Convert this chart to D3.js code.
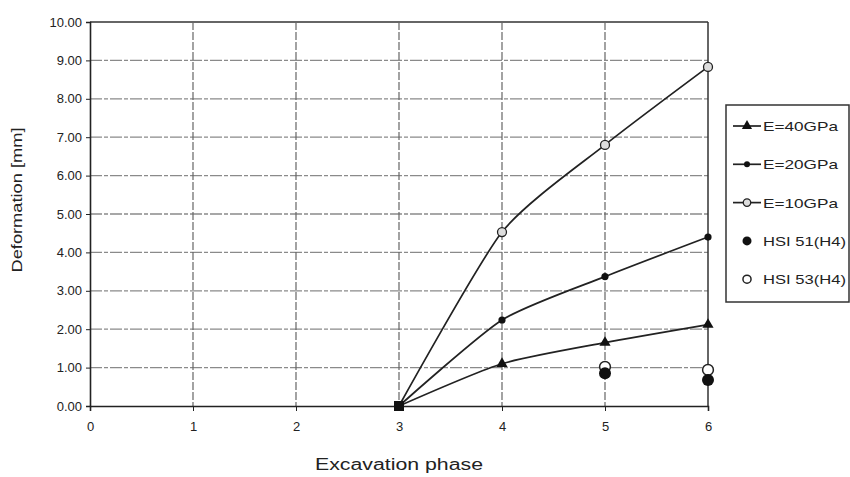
<!DOCTYPE html>
<html>
<head>
<meta charset="utf-8">
<script src="https://cdn.jsdelivr.net/npm/d3@7"></script>
<style>
  body { margin: 0; background: #fff; }
  text { font-family: "Liberation Sans", Arial, sans-serif; fill: #222; }
</style>
</head>
<body>
<script>
// values
var phases = [3, 4, 5, 6];
var e40 = [0, 1.1, 1.65, 2.12];
var e20 = [0, 2.24, 3.37, 4.4];
var e10 = [0, 4.53, 6.8, 8.83];
var hsiPhases = [5, 6];
var hsi51 = [0.85, 0.68];
var hsi53 = [1.02, 0.94];
var xTicks = [0, 1, 2, 3, 4, 5, 6];
var yTicks = [0, 1, 2, 3, 4, 5, 6, 7, 8, 9, 10];

var margin = {top: 22, left: 90},
    width = 618,
    height = 384;

var x = d3.scaleLinear().domain([0, 6]).range([0, width]);
var y = d3.scaleLinear().domain([0, 10]).range([height, 0]);

var svg = d3.select("body").append("svg")
    .attr("width", 850)
    .attr("height", 477);

var g = svg.append("g")
    .attr("transform", "translate(" + margin.left + "," + margin.top + ")");

// grid
g.selectAll(".hgrid").data(yTicks.slice(1))
  .enter().append("line")
    .attr("x1", 0).attr("x2", width)
    .attr("y1", function(d){ return y(d); })
    .attr("y2", function(d){ return y(d); })
    .attr("stroke", function(d){ return d == 10 ? "#333" : "#8a8a8a"; })
    .attr("stroke-width", function(d){ return d == 10 ? 1.5 : 1.3; })
    .attr("stroke-dasharray", function(d){ return d == 10 ? null : "12,2,4,2"; });

g.selectAll(".vgrid").data(xTicks.slice(1))
  .enter().append("line")
    .attr("y1", 0).attr("y2", height)
    .attr("x1", function(d){ return x(d); })
    .attr("x2", function(d){ return x(d); })
    .attr("stroke", function(d){ return d == 6 ? "#333" : "#666"; })
    .attr("stroke-width", function(d){ return d == 6 ? 1.5 : 1.2; })
    .attr("stroke-dasharray", function(d){ return d == 6 ? null : "8,2"; });

// axes
var yAxis = d3.axisLeft(y).tickValues(yTicks).tickSize(4)
    .tickFormat(d3.format(".2f"));
var xAxis = d3.axisBottom(x).tickValues(xTicks).tickSize(5)
    .tickFormat(d3.format("d"));

var ya = g.append("g").call(yAxis);
var xa = g.append("g").attr("transform", "translate(0," + height + ")").call(xAxis);
[ya, xa].forEach(function(a){
  a.select(".domain").attr("stroke", "#222").attr("stroke-width", 1.6);
  a.selectAll(".tick line").attr("stroke", "#222");
  a.selectAll("text").style("font-size", "13px").attr("fill", "#222")
    .style("font-family", "'Liberation Sans', Arial, sans-serif");
});
ya.selectAll("text").attr("x", -8);
xa.selectAll("text").attr("dy", "1.3em");

// axis titles (the scan is a bit stretched, so the text is widened)
svg.append("text")
    .attr("transform", "translate(22," + (margin.top + 178) + ") rotate(-90)")
    .attr("text-anchor", "middle")
    .attr("textLength", 145).attr("lengthAdjust", "spacingAndGlyphs")
    .style("font-size", "15px")
    .text("Deformation [mm]");
svg.append("text")
    .attr("x", 315).attr("y", 470)
    .attr("textLength", 168).attr("lengthAdjust", "spacingAndGlyphs")
    .style("font-size", "16px")
    .text("Excavation phase");

// lines
var line = d3.line()
    .x(function(d){ return x(d[0]); })
    .y(function(d){ return y(d[1]); })
    .curve(d3.curveCardinal.tension(0.35));

var series = [
  {name: "E=40GPa", vals: e40, marker: "tri"},
  {name: "E=20GPa", vals: e20, marker: "dot"},
  {name: "E=10GPa", vals: e10, marker: "open"}
];

series.forEach(function(s){
  var pts = phases.map(function(p, i){ return [p, s.vals[i]]; });
  g.append("path").datum(pts)
    .attr("d", line)
    .attr("fill", "none")
    .attr("stroke", "#222")
    .attr("stroke-width", 1.7);
});

function marker(sel, type, size) {
  if (type == "tri") {
    sel.append("path").attr("d", d3.symbol(d3.symbolTriangle, size * 9)())
      .attr("fill", "#111");
  } else if (type == "dot") {
    sel.append("circle").attr("r", size * 0.6).attr("fill", "#111");
  } else if (type == "open") {
    sel.append("circle").attr("r", size * 0.75).attr("fill", "#ddd")
      .attr("stroke", "#222").attr("stroke-width", 1.3);
  } else if (type == "big") {
    sel.append("circle").attr("r", size).attr("fill", "#111");
  } else if (type == "ring") {
    sel.append("circle").attr("r", size * 0.9).attr("fill", "#fff")
      .attr("stroke", "#222").attr("stroke-width", 1.5);
  }
}

series.forEach(function(s){
  phases.forEach(function(p, i){
    if (i == 0) return;
    var m = g.append("g").attr("transform", "translate(" + x(p) + "," + y(s.vals[i]) + ")");
    marker(m, s.marker, 6);
  });
});

// common start point of the three model curves
g.append("rect")
  .attr("x", x(phases[0]) - 5).attr("y", y(e40[0]) - 5)
  .attr("width", 10).attr("height", 10)
  .attr("fill", "#111");

hsiPhases.forEach(function(p, i){
  var m = g.append("g").attr("transform", "translate(" + x(p) + "," + y(hsi53[i]) + ")");
  marker(m, "ring", 6);
  var m2 = g.append("g").attr("transform", "translate(" + x(p) + "," + y(hsi51[i]) + ")");
  marker(m2, "big", 6);
});

// legend
var legendItems = [
  {name: "E=40GPa", marker: "tri", line: true},
  {name: "E=20GPa", marker: "dot", line: true},
  {name: "E=10GPa", marker: "open", line: true},
  {name: "HSI 51(H4)", marker: "big", line: false},
  {name: "HSI 53(H4)", marker: "ring", line: false}
];

var lg = svg.append("g").attr("transform", "translate(726,105)");
lg.append("rect")
  .attr("width", 123).attr("height", 197)
  .attr("fill", "#fff").attr("stroke", "#333").attr("stroke-width", 1.5);

legendItems.forEach(function(d, i){
  var row = lg.append("g").attr("transform", "translate(0," + (21 + i * 38.3) + ")");
  if (d.line) {
    row.append("line").attr("x1", 7).attr("x2", 35).attr("y1", 0).attr("y2", 0)
      .attr("stroke", "#222").attr("stroke-width", 1.7);
  }
  var m = row.append("g").attr("transform", "translate(21,0)");
  marker(m, d.marker, d.line ? 5 : 4.5);
  row.append("text").attr("x", 37).attr("y", 5)
    .attr("textLength", d.line ? 75 : 83).attr("lengthAdjust", "spacingAndGlyphs")
    .style("font-size", "13px")
    .text(d.name);
});
</script>
</body>
</html>
